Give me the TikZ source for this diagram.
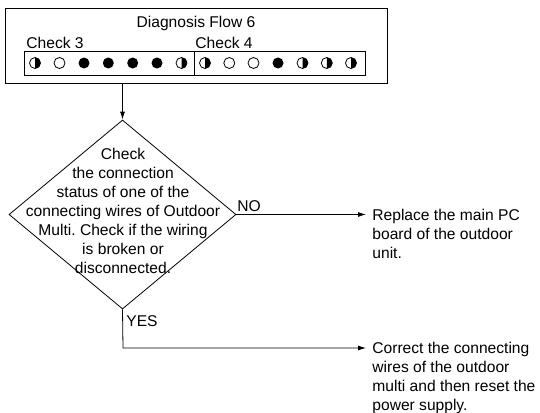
\documentclass[tikz,border=0pt]{standalone}
\usepackage{fontspec}
\setmainfont{Liberation Sans}
\usetikzlibrary{shapes.geometric,arrows.meta}
\frenchspacing
\begin{document}
\begin{tikzpicture}[x=1pt,y=-1pt,
  line width=0.8pt,
  txt/.style={inner sep=0pt,font=\fontsize{15.6}{19}\selectfont},
  arr/.style={-{Latex[length=8pt,width=5pt]},line width=0.8pt}]
\useasboundingbox (0,0) rectangle (540,412);
% outer box
\node[draw,line width=0.8pt,minimum width=382pt,minimum height=75pt,inner sep=0pt,anchor=north west] (box) at (5,8) {};
\node[txt,anchor=base] (title) at (196,28) {Diagnosis Flow 6};
\node[txt,anchor=base west] (c3) at (26,48.5) {Check 3};
\node[txt,anchor=base west] (c4) at (195,48.5) {Check 4};
\node[draw,line width=0.8pt,minimum width=341pt,minimum height=24pt,inner sep=0pt,anchor=north west] (strip) at (24,51) {};
\draw[line width=0.8pt] (194,51) -- (194,75);
% LEDs: h = half (right black), o = off, f = full
\foreach \x/\t in {35/h,59.5/o,84/f,108.3/f,132.7/f,157/f,181.5/h,205/h,229.3/o,253.5/o,278/f,302.5/h,326.8/h,351/h}{
  \if\t f
    \fill (\x,63) circle (5.5pt);
  \else
    \draw (\x,63) circle (5.5pt);
  \fi
  \if\t h
    \fill (\x,57.5) arc[start angle=90,end angle=-90,radius=5.5pt] -- cycle;
  \fi
}
% decision
\node[draw,shape=diamond,line width=0.8pt,minimum width=227pt,minimum height=189pt,inner sep=0pt] (dec) at (122.5,214.5) {};
\node[txt,align=center] (dectext) at (123,210.5) {Check\\the connection\\status of one of the\\connecting wires of Outdoor\\Multi. Check if the wiring\\is broken or\\disconnected.};
\draw[arr] (dec.north |- box.south) -- (dec.north);
% NO branch
\coordinate (noend) at (366,214.5);
\draw[arr] (dec.east) -- (noend);
\node[txt,anchor=base west] (no) at (237,211) {NO};
\node[txt,align=left,anchor=north west] (replace) at (372,208.5) {Replace the main PC\\board of the outdoor\\unit.};
% YES branch
\coordinate (yescorner) at (123,348);
\coordinate (yesend) at (366,348);
\draw[arr] (dec.south) -- (yescorner) -- (yesend);
\node[txt,anchor=base west] (yes) at (126,326) {YES};
\node[txt,align=left,anchor=north west] (correct) at (372,341.5) {Correct the connecting\\wires of the outdoor\\multi and then reset the\\power supply.};
\end{tikzpicture}
\end{document}
